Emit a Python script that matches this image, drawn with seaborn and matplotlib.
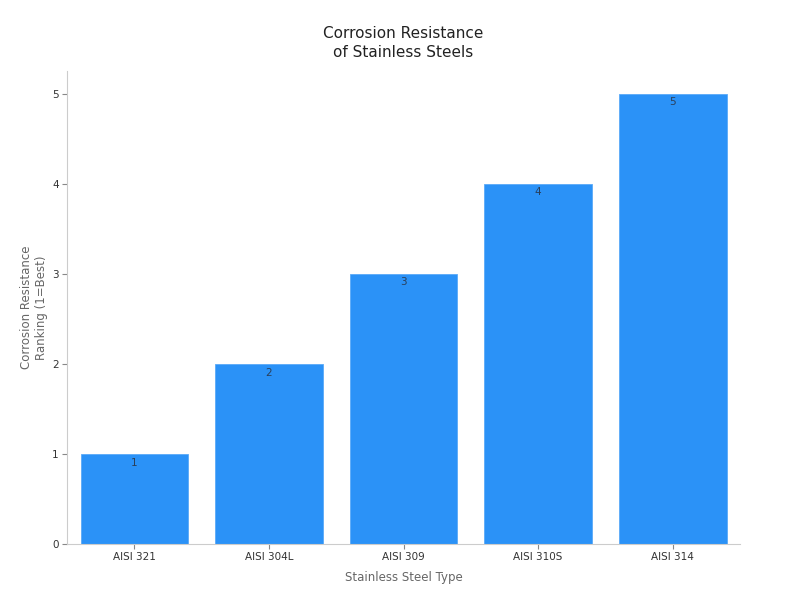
import matplotlib
matplotlib.use('Agg')
import pandas as pd
import seaborn as sns
from matplotlib import pyplot as plt

#data
steel_types = ['AISI 321', 'AISI 304L', 'AISI 309', 'AISI 310S', 'AISI 314']
rankings = [1, 2, 3, 4, 5]

df = pd.DataFrame({'steel': steel_types, 'rank': rankings})

sns.set_theme(style='ticks')
plt.rcParams['font.family'] = ['DejaVu Sans']

fig = plt.figure(figsize=(8, 6), dpi=100)
ax = fig.add_axes([0.084, 0.0933, 0.841, 0.788])

sns.barplot(data=df, x='steel', y='rank', color='#2b92f7', width=0.8,
            saturation=1, edgecolor='#5aaaf8', linewidth=0.6, ax=ax)

#value labels just inside the top of each bar
for i, v in enumerate(rankings):
    ax.text(i, v - 0.04, str(v), ha='center', va='top', fontsize=7.5, color='#2a3f5a')

ax.set_xlim(-0.5, 4.5)
ax.set_ylim(0, 5.25)
ax.set_yticks([0, 1, 2, 3, 4, 5])

ax.set_title('Corrosion Resistance\nof Stainless Steels', fontsize=11, color='#222222',
             pad=10, linespacing=1.35)
ax.set_xlabel('Stainless Steel Type', fontsize=8.5, color='#666666', labelpad=6)
ax.set_ylabel('Corrosion Resistance\nRanking (1=Best)', fontsize=8.5, color='#666666', labelpad=3)

ax.tick_params(axis='both', labelsize=7.5, labelcolor='#333333', length=3.5, width=0.8,
               color='#888888', pad=2.5)

sns.despine(ax=ax)
for s in ['left', 'bottom']:
    ax.spines[s].set_color('#cccccc')
    ax.spines[s].set_linewidth(0.8)

fig.savefig('out.png', dpi=100)
